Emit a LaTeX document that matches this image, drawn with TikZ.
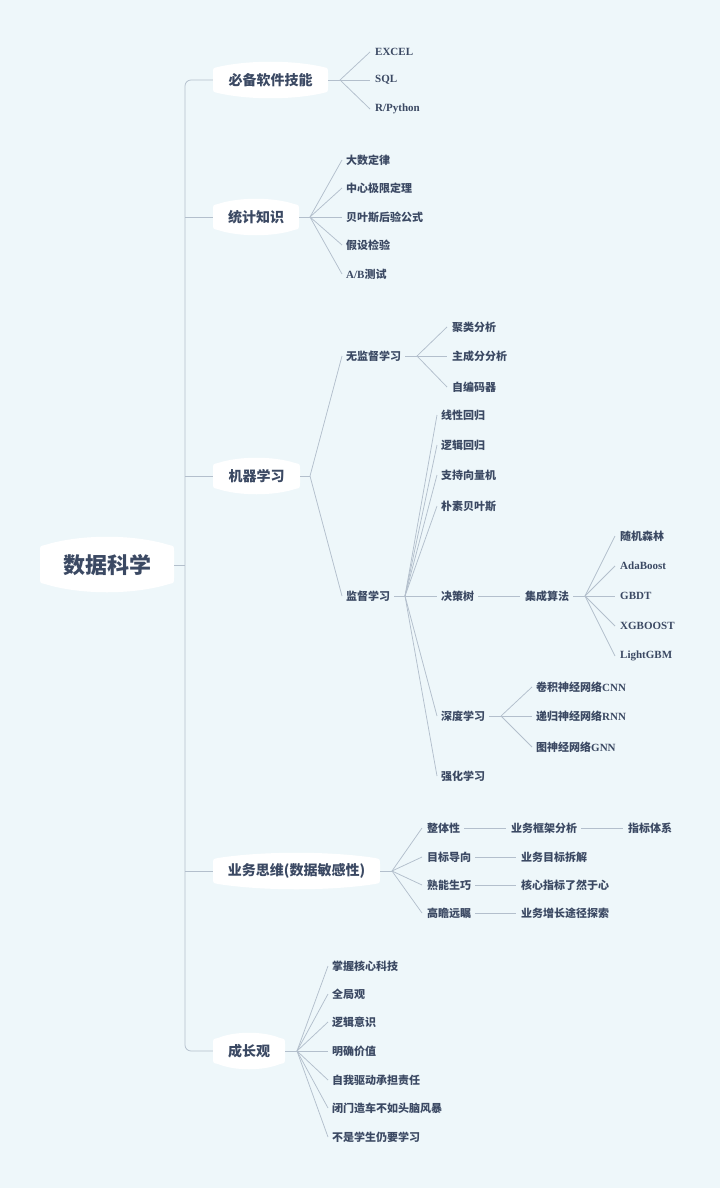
\documentclass[tikz,border=0pt]{standalone}
\usepackage{fontspec}
\setmainfont{Liberation Serif}
\newfontfamily\cjk{Noto Sans CJK SC}
\newfontfamily\latf{Liberation Serif}
\newcommand\lt[1]{{\latf\bfseries #1}}
\definecolor{bgc}{HTML}{EEF7FA}
\definecolor{txt}{HTML}{3B4963}
\definecolor{linec}{HTML}{B3BFCC}
\newcommand\lensbox[5]{%
\fill[white] ({#1},{#3+5}) .. controls ({#1},{#3}) .. ({#1+5},{#3-1})
 .. controls ({#1+(#2-#1)*0.3},{#3-4*#5/3}) and ({#2-(#2-#1)*0.3},{#3-4*#5/3}) .. ({#2-5},{#3-1})
 .. controls ({#2},{#3}) .. ({#2},{#3+5}) -- ({#2},{#4-5})
 .. controls ({#2},{#4}) .. ({#2-5},{#4+1})
 .. controls ({#2-(#2-#1)*0.3},{#4+4*#5/3}) and ({#1+(#2-#1)*0.3},{#4+4*#5/3}) .. ({#1+5},{#4+1})
 .. controls ({#1},{#4}) .. ({#1},{#4-5}) -- cycle;}
\tikzset{
 link/.style={draw=linec, line width=0.75pt},
 leaf/.style={anchor=west, inner sep=0pt, text=txt, font=\cjk\bfseries\fontsize{11}{13}\selectfont},
 mainn/.style={inner sep=0pt, text=txt, font=\cjk\bfseries\fontsize{14}{16}\selectfont, minimum height=24pt},
 rootn/.style={inner sep=0pt, text=txt, font=\cjk\bfseries\fontsize{22}{24}\selectfont, minimum height=38pt, minimum width=134pt},
}
\begin{document}
\begin{tikzpicture}[x=1pt,y=-1pt]
\fill[bgc] (0,0) rectangle (720,1188);
\useasboundingbox (0,0) rectangle (720,1188);
% boxes
\lensbox{40}{174}{546}{583}{9}
\lensbox{213}{328}{68}{92}{6}
\lensbox{213}{299}{205}{229}{6}
\lensbox{213}{300}{464}{488}{6}
\lensbox{213}{380}{859}{883}{6}
\lensbox{213}{285}{1039}{1063}{6}
% root and main nodes
\node[rootn] (root) at (107,565) {数据科学};
\node[mainn, minimum width=115pt] (m1) at (270.5,80) {必备软件技能};
\node[mainn, minimum width=86pt] (m2) at (256,217) {统计知识};
\node[mainn, minimum width=87pt] (m3) at (256.5,476) {机器学习};
\node[mainn, minimum width=167pt] (m4) at (296.5,871) {业务思维(数据敏感性)};
\node[mainn, minimum width=72pt] (m5) at (249,1051) {成长观};
% trunk
\coordinate (tr) at (185,565);
\draw[link, rounded corners=6pt] (m1.west) -- (185,80) -- (185,1051) -- (m5.west);
\draw[link] (root.east) -- (tr);
\draw[link] (m2.west) -- (185,217);
\draw[link] (m3.west) -- (185,476);
\draw[link] (m4.west) -- (185,871);
% branch 1
\coordinate (f1) at (340,80);
\draw[link] (m1.east) -- (f1);
\node[leaf] (a1) at (375,52) {\lt{EXCEL}};
\node[leaf] (a2) at (375,80) {\lt{SQL}};
\node[leaf] (a3) at (375,109) {\lt{R/Python}};
\foreach \n in {a1,a2,a3} \draw[link] (f1) -- ([xshift=-5pt]\n.west);
% branch 2
\coordinate (f2) at (310,217);
\draw[link] (m2.east) -- (f2);
\node[leaf] (b1) at (346,160) {大数定律};
\node[leaf] (b2) at (346,188) {中心极限定理};
\node[leaf] (b3) at (346,217) {贝叶斯后验公式};
\node[leaf] (b4) at (346,245) {假设检验};
\node[leaf] (b5) at (346,274) {\lt{A/B}测试};
\foreach \n in {b1,b2,b3,b4,b5} \draw[link] (f2) -- ([xshift=-4pt]\n.west);
% branch 3
\coordinate (f3) at (310,476);
\draw[link] (m3.east) -- (f3);
\node[leaf] (u) at (346,356) {无监督学习};
\node[leaf] (s) at (346,596) {监督学习};
\foreach \n in {u,s} \draw[link] (f3) -- ([xshift=-4pt]\n.west);
\coordinate (fu) at (417,356);
\draw[link] ([xshift=4pt]u.east) -- (fu);
\node[leaf] (u1) at (452,327) {聚类分析};
\node[leaf] (u2) at (452,356) {主成分分析};
\node[leaf] (u3) at (452,387) {自编码器};
\foreach \n in {u1,u2,u3} \draw[link] (fu) -- ([xshift=-5pt]\n.west);
\coordinate (fs) at (405,596);
\draw[link] ([xshift=4pt]s.east) -- (fs);
\node[leaf] (s1) at (441,415) {线性回归};
\node[leaf] (s2) at (441,445) {逻辑回归};
\node[leaf] (s3) at (441,475) {支持向量机};
\node[leaf] (s4) at (441,506) {朴素贝叶斯};
\node[leaf] (s5) at (441,596) {决策树};
\node[leaf] (s6) at (441,716) {深度学习};
\node[leaf] (s7) at (441,776) {强化学习};
\foreach \n in {s1,s2,s3,s4,s5,s6,s7} \draw[link] (fs) -- ([xshift=-4pt]\n.west);
\node[leaf] (ens) at (525,596) {集成算法};
\draw[link] ([xshift=4pt]s5.east) -- ([xshift=-5pt]ens.west);
\coordinate (fe) at (585,596);
\draw[link] ([xshift=4pt]ens.east) -- (fe);
\node[leaf] (e1) at (620,536) {随机森林};
\node[leaf] (e2) at (620,566) {\lt{AdaBoost}};
\node[leaf] (e3) at (620,596) {\lt{GBDT}};
\node[leaf] (e4) at (620,626) {\lt{XGBOOST}};
\node[leaf] (e5) at (620,656) {\lt{LightGBM}};
\foreach \n in {e1,e2,e3,e4,e5} \draw[link] (fe) -- ([xshift=-5pt]\n.west);
\coordinate (fd) at (501,716);
\draw[link] ([xshift=4pt]s6.east) -- (fd);
\node[leaf] (d1) at (536,687) {卷积神经网络\lt{CNN}};
\node[leaf] (d2) at (536,716) {递归神经网络\lt{RNN}};
\node[leaf] (d3) at (536,747) {图神经网络\lt{GNN}};
\foreach \n in {d1,d2,d3} \draw[link] (fd) -- ([xshift=-4pt]\n.west);
% branch 4
\coordinate (f4) at (392,871);
\draw[link] (m4.east) -- (f4);
\node[leaf] (g1) at (427,828) {整体性};
\node[leaf] (g2) at (427,857) {目标导向};
\node[leaf] (g3) at (427,885) {熟能生巧};
\node[leaf] (g4) at (427,913) {高瞻远瞩};
\foreach \n in {g1,g2,g3,g4} \draw[link] (f4) -- ([xshift=-5pt]\n.west);
\node[leaf] (h1) at (511,828) {业务框架分析};
\node[leaf] (h1b) at (628,828) {指标体系};
\node[leaf] (h2) at (521,857) {业务目标拆解};
\node[leaf] (h3) at (521,885) {核心指标了然于心};
\node[leaf] (h4) at (521,913) {业务增长途径探索};
\draw[link] ([xshift=4pt]g1.east) -- ([xshift=-5pt]h1.west);
\draw[link] ([xshift=4pt]h1.east) -- ([xshift=-5pt]h1b.west);
\draw[link] ([xshift=4pt]g2.east) -- ([xshift=-5pt]h2.west);
\draw[link] ([xshift=4pt]g3.east) -- ([xshift=-5pt]h3.west);
\draw[link] ([xshift=4pt]g4.east) -- ([xshift=-5pt]h4.west);
% branch 5
\coordinate (f5) at (297,1051);
\draw[link] (m5.east) -- (f5);
\node[leaf] (k1) at (332,966) {掌握核心科技};
\node[leaf] (k2) at (332,994) {全局观};
\node[leaf] (k3) at (332,1022) {逻辑意识};
\node[leaf] (k4) at (332,1051) {明确价值};
\node[leaf] (k5) at (332,1080) {自我驱动承担责任};
\node[leaf] (k6) at (332,1108) {闭门造车不如头脑风暴};
\node[leaf] (k7) at (332,1137) {不是学生仍要学习};
\foreach \n in {k1,k2,k3,k4,k5,k6,k7} \draw[link] (f5) -- ([xshift=-4pt]\n.west);
\end{tikzpicture}
\end{document}
